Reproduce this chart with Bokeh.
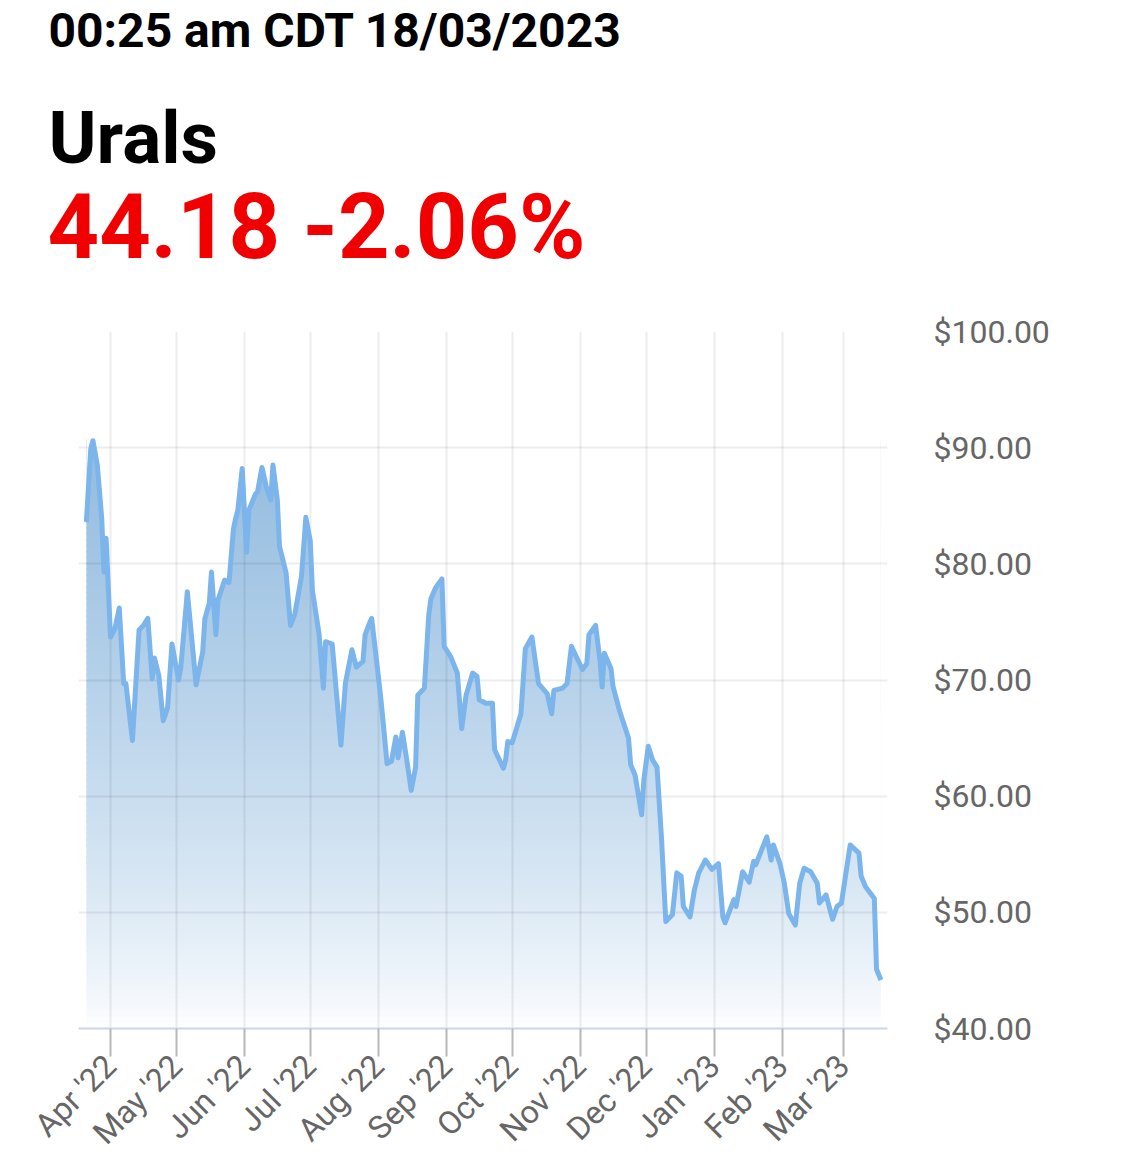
import numpy as np
import pandas as pd
from math import pi
from datetime import datetime
from bokeh.plotting import figure
from bokeh.models import (Range1d, FixedTicker, NumeralTickFormatter, DatetimeTickFormatter,
                          Title, ColumnDataSource)
from bokeh.embed import file_html
from bokeh.resources import INLINE

# ---------------- data ----------------
title_time = "00:25 am CDT 18/03/2023"
title_name = "Urals"
title_quote = "44.18 -2.06%"

dates = [
    "2022-03-21", "2022-03-23", "2022-03-24", "2022-03-26", "2022-03-28", "2022-03-29", "2022-03-30",
    "2022-04-01", "2022-04-03", "2022-04-05", "2022-04-07", "2022-04-08", "2022-04-11", "2022-04-14",
    "2022-04-16", "2022-04-18", "2022-04-20", "2022-04-21", "2022-04-23", "2022-04-25", "2022-04-27",
    "2022-04-29", "2022-05-02", "2022-05-03", "2022-05-06", "2022-05-10", "2022-05-13", "2022-05-14",
    "2022-05-16", "2022-05-17", "2022-05-19", "2022-05-20", "2022-05-23", "2022-05-25", "2022-05-27",
    "2022-05-28", "2022-05-29", "2022-05-31", "2022-06-02", "2022-06-03", "2022-06-06", "2022-06-07",
    "2022-06-09", "2022-06-11", "2022-06-13", "2022-06-14", "2022-06-16", "2022-06-17", "2022-06-20",
    "2022-06-22", "2022-06-24", "2022-06-27", "2022-06-29", "2022-07-01", "2022-07-02", "2022-07-05",
    "2022-07-07", "2022-07-08", "2022-07-11", "2022-07-15", "2022-07-17", "2022-07-20", "2022-07-22",
    "2022-07-25", "2022-07-26", "2022-07-28", "2022-07-29", "2022-08-02", "2022-08-03", "2022-08-05",
    "2022-08-07", "2022-08-09", "2022-08-10", "2022-08-12", "2022-08-14", "2022-08-16", "2022-08-18",
    "2022-08-19", "2022-08-22", "2022-08-24", "2022-08-25", "2022-08-27", "2022-08-30", "2022-08-31",
    "2022-09-03", "2022-09-06", "2022-09-08", "2022-09-10", "2022-09-13", "2022-09-15", "2022-09-16",
    "2022-09-19", "2022-09-22", "2022-09-23", "2022-09-27", "2022-09-28", "2022-09-29", "2022-10-01",
    "2022-10-05", "2022-10-07", "2022-10-10", "2022-10-13", "2022-10-17", "2022-10-19", "2022-10-20",
    "2022-10-24", "2022-10-26", "2022-10-28", "2022-10-31", "2022-11-02", "2022-11-04", "2022-11-05",
    "2022-11-08", "2022-11-10", "2022-11-11", "2022-11-12", "2022-11-15", "2022-11-16", "2022-11-19",
    "2022-11-23", "2022-11-24", "2022-11-26", "2022-11-29", "2022-11-30", "2022-12-02", "2022-12-04",
    "2022-12-06", "2022-12-08", "2022-12-10", "2022-12-13", "2022-12-15", "2022-12-17", "2022-12-18",
    "2022-12-21", "2022-12-23", "2022-12-25", "2022-12-28", "2022-12-31", "2023-01-03", "2023-01-05",
    "2023-01-06", "2023-01-10", "2023-01-11", "2023-01-14", "2023-01-17", "2023-01-19", "2023-01-20",
    "2023-01-25", "2023-01-27", "2023-01-28", "2023-01-31", "2023-02-02", "2023-02-04", "2023-02-07",
    "2023-02-09", "2023-02-11", "2023-02-14", "2023-02-17", "2023-02-18", "2023-02-21", "2023-02-24",
    "2023-02-26", "2023-02-28", "2023-03-04", "2023-03-08", "2023-03-09", "2023-03-11", "2023-03-15",
    "2023-03-16", "2023-03-18",
]

prices = [
    83.6, 89.9, 90.6, 88.5, 83.9, 79.3, 82.2,
    73.7, 74.4, 76.2, 69.7, 69.7, 64.8, 74.3,
    74.7, 75.3, 70.1, 71.9, 70.4, 66.5, 67.6,
    73.1, 70.0, 71.0, 77.6, 69.6, 72.4, 75.3,
    76.6, 79.3, 73.9, 76.9, 78.6, 78.4, 83.0,
    83.9, 84.6, 88.2, 81.0, 84.6, 86.0, 86.2,
    88.3, 86.6, 85.5, 88.5, 85.5, 81.5, 79.2,
    74.7, 75.7, 78.9, 84.0, 82.0, 77.7, 74.0,
    69.3, 73.3, 73.1, 64.4, 69.7, 72.6, 71.1,
    71.6, 73.9, 74.9, 75.3, 68.7, 66.8, 62.8,
    63.0, 65.1, 63.3, 65.5, 63.1, 60.5, 62.5,
    68.7, 69.3, 75.6, 77.0, 77.9, 78.7, 72.9,
    72.0, 70.6, 65.8, 68.7, 70.6, 70.3, 68.3,
    68.0, 68.0, 64.0, 62.4, 63.1, 64.7, 64.6,
    67.1, 72.7, 73.7, 69.7, 68.8, 67.1, 69.1,
    69.3, 69.7, 72.9, 71.7, 70.9, 71.4, 73.9,
    74.7, 71.7, 69.4, 72.3, 71.0, 69.4, 67.3,
    65.0, 62.7, 61.8, 58.4, 61.4, 64.3, 63.1,
    62.5, 56.5, 49.2, 49.8, 53.4, 53.1, 50.5,
    49.6, 51.9, 53.4, 54.5, 53.7, 54.2, 49.6,
    49.1, 51.1, 50.5, 53.5, 52.6, 54.4, 54.1,
    56.5, 54.5, 55.8, 54.2, 52.5, 49.9, 48.9,
    52.5, 53.8, 53.5, 52.5, 50.8, 51.5, 49.4,
    50.5, 50.8, 55.8, 55.1, 53.1, 52.2, 51.2,
    45.1, 44.18,
]

month_ticks = ["2022-04-01", "2022-05-01", "2022-06-01", "2022-07-01", "2022-08-01", "2022-09-01",
               "2022-10-01", "2022-11-01", "2022-12-01", "2023-01-01", "2023-02-01", "2023-03-01"]
y_ticks = [40, 50, 60, 70, 80, 90, 100]

FONT = "Roboto"
LABEL_GREY = "#666666"
W = 1117
H = 1167

# ---------------- chart ----------------
x = pd.to_datetime(dates)

p = figure(width=W, height=H, output_backend="svg", toolbar_location=None,
           x_axis_type="datetime", y_axis_location="right",
           x_range=Range1d(datetime(2022, 3, 17, 10), datetime(2023, 3, 21)),
           y_range=Range1d(40, 100),
           min_border_left=78, min_border_right=W - 887,
           min_border_top=331, min_border_bottom=H - 1029)
p.outline_line_color = None

# header texts as stacked titles (first added = closest to the plot)
p.title.visible = False
p.add_layout(Title(text=" ", align="left", standoff=82, text_font=FONT,
                   text_font_size="10px"), "above")          # spacing between header and plot
p.add_layout(Title(text=title_quote, align="left", offset=-31, standoff=-87,
                   text_font=FONT, text_font_style="bold", text_font_size="90px",
                   text_color="#f00000"), "above")
p.add_layout(Title(text=title_name, align="left", offset=-30, standoff=71,
                   text_font=FONT, text_font_style="bold", text_font_size="73px",
                   text_color="black"), "above")
p.add_layout(Title(text=title_time, align="left", offset=-30, standoff=-3,
                   text_font=FONT, text_font_style="bold", text_font_size="48px",
                   text_color="black"), "above")

# gradient fill under the line: horizontal colour bands, then a white mask above the line
ymax = max(prices)
nb = 100
edges = np.linspace(40, ymax, nb + 1)
step = edges[1] - edges[0]
mids = (edges[:-1] + edges[1:]) / 2
tt = ((mids - 40) / (ymax - 40)) ** 0.75
top_rgb = np.array([146, 187, 223])
cols = ["#%02x%02x%02x" % tuple(int(round(255 - ti * (255 - c))) for c in top_rgb) for ti in tt]
band_src = ColumnDataSource(dict(left=[x.min()] * nb, right=[x.max()] * nb,
                                 bottom=edges[:-1], top=edges[1:] + step * 0.3, color=cols))
p.quad(left="left", right="right", bottom="bottom", top="top", source=band_src,
       fill_color="color", line_color=None, level="image")
p.varea(x=x, y1=prices, y2=100, fill_color="white", level="image")

# the series line
p.line(x, prices, line_color="#7cb5ec", line_width=5, line_join="round")

# axes
tick_ms = [float(v) for v in (pd.to_datetime(month_ticks).astype("int64") // 10**6)]
xt = FixedTicker(ticks=tick_ms)
xa = p.xaxis[0]
xa.ticker = xt
xa.formatter = DatetimeTickFormatter(months="%b '%y", days="%b '%y")
xa.major_label_orientation = pi / 4
xa.major_label_text_font = FONT
xa.major_label_text_font_size = "32px"
xa.major_label_text_color = LABEL_GREY
xa.major_label_standoff = 4
xa.axis_line_color = "#ccd6eb"
xa.axis_line_width = 2
xa.major_tick_in = 0
xa.major_tick_out = 28
xa.major_tick_line_color = "#b8b8b8"
xa.major_tick_line_width = 2
xa.minor_tick_line_color = None

yt = FixedTicker(ticks=y_ticks)
ya = p.yaxis[0]
ya.ticker = yt
ya.formatter = NumeralTickFormatter(format="$0.00")
ya.axis_line_color = None
ya.major_tick_line_color = None
ya.minor_tick_line_color = None
ya.major_tick_in = 0
ya.major_tick_out = 0
ya.major_label_standoff = 46
ya.major_label_text_font = FONT
ya.major_label_text_font_size = "32px"
ya.major_label_text_color = LABEL_GREY

p.xgrid.ticker = xt
p.ygrid.ticker = yt
for g in (p.xgrid[0], p.ygrid[0]):
    g.grid_line_color = "black"
    g.grid_line_alpha = 0.07
    g.grid_line_width = 2

open("out.html", "w").write(file_html(p, INLINE))
